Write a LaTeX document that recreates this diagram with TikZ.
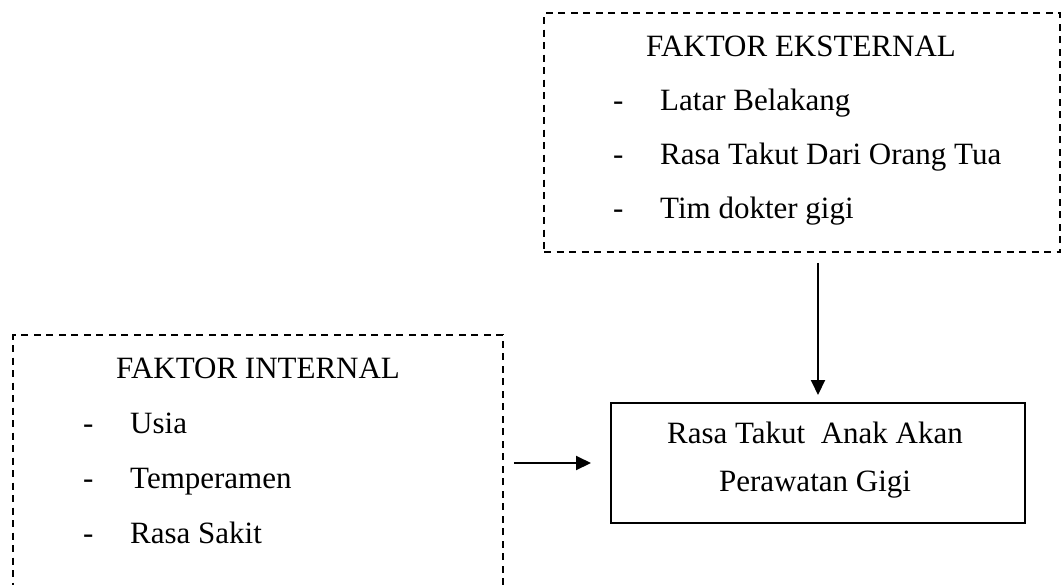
\documentclass[tikz,border=0pt]{standalone}
\usepackage{fontspec}
\setmainfont{Liberation Serif}
\usetikzlibrary{arrows.meta,calc}
\begin{document}
\begin{tikzpicture}[x=1pt,y=-1pt,
  dashbox/.style={draw=black,line width=1.8pt,dash pattern=on 7pt off 5.5pt,rectangle,inner sep=0pt},
  solidbox/.style={draw=black,line width=2pt,rectangle,inner sep=0pt},
  txt/.style={inner sep=0pt,font=\fontsize{31}{31}\selectfont},
  conn/.style={line width=2pt,-{Triangle[length=15pt,width=14pt]}}]
\clip (0,0) rectangle (1062,584);
\fill[white] (0,0) rectangle (1062,584);
% boxes
\node[dashbox,minimum width=516pt,minimum height=239pt] (eb) at (802,132.5) {};
\node[dashbox,minimum width=490pt,minimum height=285pt] (ib) at (258,477.5) {};
\node[solidbox,minimum width=414pt,minimum height=120pt] (res) at (818,463) {};
% external texts
\node[txt,anchor=base] (ehead) at (801,56) {FAKTOR EKSTERNAL};
\node[txt,anchor=base west] (ed1) at (613,110) {-};
\node[txt,anchor=base west] (ei1) at (660,110) {Latar Belakang};
\node[txt,anchor=base west] (ed2) at (613,164) {-};
\node[txt,anchor=base west] (ei2) at (660,164) {Rasa Takut Dari Orang Tua};
\node[txt,anchor=base west] (ed3) at (613,218) {-};
\node[txt,anchor=base west] (ei3) at (660,218) {Tim dokter gigi};
% internal texts
\node[txt,anchor=base] (ihead) at (258,378) {FAKTOR INTERNAL};
\node[txt,anchor=base west] (id1) at (83,433) {-};
\node[txt,anchor=base west] (ii1) at (130,433) {Usia};
\node[txt,anchor=base west] (id2) at (83,488) {-};
\node[txt,anchor=base west] (ii2) at (130,488) {Temperamen};
\node[txt,anchor=base west] (id3) at (83,543) {-};
\node[txt,anchor=base west] (ii3) at (130,543) {Rasa Sakit};
% result texts
\node[txt,anchor=base] (r1) at (815,443) {Rasa Takut\ \ Anak Akan};
\node[txt,anchor=base] (r2) at (815,491) {Perawatan Gigi};
% connectors
\draw[conn,shorten <=10pt,shorten >=7pt] (eb.south -| res.north) -- (res.north);
\draw[conn,shorten <=10pt,shorten >=19pt] (res.west -| ib.east) -- (res.west);
\end{tikzpicture}
\end{document}
